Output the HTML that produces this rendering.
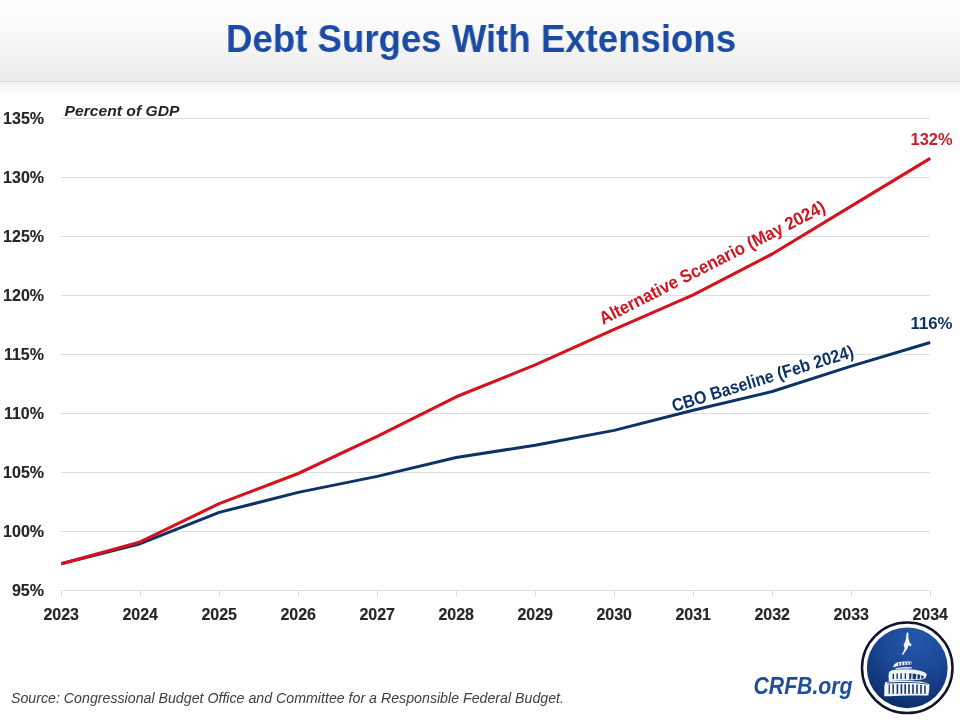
<!DOCTYPE html>
<html>
<head>
<meta charset="utf-8">
<style>
html,body{margin:0;padding:0;width:960px;height:720px;overflow:hidden;background:#fff;}
body{position:relative;font-family:"Liberation Sans",sans-serif;}
#hdr{position:absolute;left:0;top:0;width:960px;height:81px;background:linear-gradient(#ffffff 0%,#fafafa 35%,#efefef 80%,#ebebeb 100%);}
#hdrline{position:absolute;left:0;top:80.5px;width:960px;height:1.5px;background:#dadada;}
#shadow{position:absolute;left:0;top:82px;width:960px;height:17px;background:linear-gradient(#f2f2f2,#f8f8f8 35%,#ffffff);}
#title{position:absolute;left:1.25px;top:17px;transform:scaleX(0.9506);width:960px;text-align:center;font-weight:bold;font-size:38.5px;color:#1c4ba3;white-space:nowrap;}
svg{position:absolute;left:0;top:0;will-change:transform;}
#title{will-change:transform;}
</style>
</head>
<body>
<div id="hdr"></div>
<div id="hdrline"></div>
<div id="shadow"></div>
<div id="title">Debt Surges With Extensions</div>
<svg width="960" height="720" viewBox="0 0 960 720">
  <g stroke="#dddddd" stroke-width="1">
    <line x1="61" y1="118.5" x2="930" y2="118.5"/>
    <line x1="61" y1="177.5" x2="930" y2="177.5"/>
    <line x1="61" y1="236.5" x2="930" y2="236.5"/>
    <line x1="61" y1="295.5" x2="930" y2="295.5"/>
    <line x1="61" y1="354.5" x2="930" y2="354.5"/>
    <line x1="61" y1="413.5" x2="930" y2="413.5"/>
    <line x1="61" y1="472.5" x2="930" y2="472.5"/>
    <line x1="61" y1="531.5" x2="930" y2="531.5"/>
    <line x1="61" y1="590.5" x2="930" y2="590.5"/>
  </g>
  <g font-family="Liberation Sans" font-weight="bold" font-size="16" fill="#262626" stroke="#262626" stroke-width="0.15" text-anchor="end">
    <text x="44" y="124">135%</text>
    <text x="44" y="183">130%</text>
    <text x="44" y="242">125%</text>
    <text x="44" y="301">120%</text>
    <text x="44" y="360">115%</text>
    <text x="44" y="419">110%</text>
    <text x="44" y="478">105%</text>
    <text x="44" y="537">100%</text>
    <text x="44" y="596">95%</text>
  </g>
  <text x="64.5" y="115.5" textLength="115" lengthAdjust="spacingAndGlyphs" font-family="Liberation Sans" font-weight="bold" font-style="italic" font-size="15" fill="#262626">Percent of GDP</text>
  <g stroke="#dddddd" stroke-width="1">
    <line x1="61.5" y1="590" x2="61.5" y2="597"/>
    <line x1="140.5" y1="590" x2="140.5" y2="597"/>
    <line x1="219.5" y1="590" x2="219.5" y2="597"/>
    <line x1="298.5" y1="590" x2="298.5" y2="597"/>
    <line x1="377.5" y1="590" x2="377.5" y2="597"/>
    <line x1="456.5" y1="590" x2="456.5" y2="597"/>
    <line x1="535.5" y1="590" x2="535.5" y2="597"/>
    <line x1="614.5" y1="590" x2="614.5" y2="597"/>
    <line x1="693.5" y1="590" x2="693.5" y2="597"/>
    <line x1="772.5" y1="590" x2="772.5" y2="597"/>
    <line x1="851.5" y1="590" x2="851.5" y2="597"/>
    <line x1="930.5" y1="590" x2="930.5" y2="597"/>
  </g>
  <g font-family="Liberation Sans" font-weight="bold" font-size="16" fill="#262626" stroke="#262626" stroke-width="0.15" text-anchor="middle">
    <text x="61.2" y="620">2023</text>
    <text x="140.2" y="620">2024</text>
    <text x="219.2" y="620">2025</text>
    <text x="298.2" y="620">2026</text>
    <text x="377.2" y="620">2027</text>
    <text x="456.2" y="620">2028</text>
    <text x="535.2" y="620">2029</text>
    <text x="614.2" y="620">2030</text>
    <text x="693.2" y="620">2031</text>
    <text x="772.2" y="620">2032</text>
    <text x="851.2" y="620">2033</text>
    <text x="930.2" y="620">2034</text>
  </g>
  <polyline fill="none" stroke="#0d3366" stroke-width="3" stroke-linejoin="round" stroke-linecap="butt" points="61.2,563.8 140.2,543.7 219.2,512.4 298.2,492.4 377.2,476.4 456.2,457.5 535.2,445.2 614.2,430.4 693.2,410.3 772.2,391.5 851.2,366.1 930.2,342.5"/>
  <polyline fill="none" stroke="#d6121c" stroke-width="3.1" stroke-linejoin="round" stroke-linecap="butt" points="61.2,563.8 140.2,541.9 219.2,503.6 298.2,473.5 377.2,436.3 456.2,396.8 535.2,364.9 614.2,329.3 693.2,294.8 772.2,254.0 851.2,206.2 930.2,158.4"/>
  <text x="0" y="0" textLength="251" lengthAdjust="spacingAndGlyphs" transform="translate(603,325) rotate(-27)" font-family="Liberation Sans" font-weight="bold" font-size="18" fill="#cf1520">Alternative Scenario (May 2024)</text>
  <text x="0" y="0" textLength="189" lengthAdjust="spacingAndGlyphs" transform="translate(674,412) rotate(-17)" font-family="Liberation Sans" font-weight="bold" font-size="18" fill="#0d3366">CBO Baseline (Feb 2024)</text>
  <text x="910.5" y="145" textLength="42" lengthAdjust="spacingAndGlyphs" font-family="Liberation Sans" font-weight="bold" font-size="16.5" fill="#c8202a">132%</text>
  <text x="910.5" y="329" textLength="42" lengthAdjust="spacingAndGlyphs" font-family="Liberation Sans" font-weight="bold" font-size="16.5" fill="#0d3366">116%</text>
  <text x="11" y="703" textLength="553" lengthAdjust="spacingAndGlyphs" font-family="Liberation Sans" font-style="italic" font-size="14.5" fill="#404040">Source: Congressional Budget Office and Committee for a Responsible Federal Budget.</text>
  <text x="753.5" y="693.5" textLength="99" lengthAdjust="spacingAndGlyphs" font-family="Liberation Sans" font-weight="bold" font-style="italic" font-size="24" fill="#1f4e9b">CRFB.org</text>
  <g id="logo">
    <defs>
      <radialGradient id="lg" cx="0.6" cy="0.15" r="0.95" fx="0.6" fy="0.15">
        <stop offset="0" stop-color="#2458ad"/>
        <stop offset="0.45" stop-color="#1b4795"/>
        <stop offset="0.8" stop-color="#113474"/>
        <stop offset="1" stop-color="#0b2557"/>
      </radialGradient>
    </defs>
    <circle cx="907.25" cy="667.8" r="45.25" fill="#ffffff" stroke="#10142e" stroke-width="2.5"/>
    <circle cx="907.25" cy="667.8" r="40.4" fill="url(#lg)"/>
    <g fill="#f2f4fa">
      <path d="M907.4,632 L908.5,633.6 L908.4,637.2 L909.1,640.5 L909.6,642.8 L911.4,644.2 L911.2,646.2 L908.5,645.6 L907.6,648.2 L905.4,651.6 L903,655 L901.8,654.5 L903.6,651.3 L904.6,648.2 L903.6,644.8 L905.2,641.6 L906,638.4 L906.3,634.25 Z"/>
      <path d="M893.2,667.6 L893.6,665.6 L895.2,663.4 L897.6,662.2 L901,661.7 L906,661.4 L911.4,661.5 L911.6,664.6 L906,665 L900,665.6 L896,666.6 Z"/>
      <path d="M895.5,668.6 L900,667.4 L906,667 L911.8,667.2 L911.8,668.6 L906,668.5 L900,668.8 L895.5,669.4 Z"/>
      <path d="M888.8,681 L888.5,675.5 L889.2,671.8 L892,670.3 L898,669.5 L907,669.2 L915,669.7 L921,670.9 L925,672.4 L926.8,674.2 L925.6,678 L922,679.6 L912,680.2 L900,680.5 L891,680.9 Z"/>
      <path d="M884.2,696.3 L884.4,686 L885.2,682.3 L890,681.2 L900,680.8 L910,680.9 L920,681.6 L927,682.9 L929.4,684.6 L929.2,690 L928.3,695.6 L920,695.6 L910,695.4 L900,695.7 L890,696.2 Z"/>
    </g>
    <g fill="#163872">
      <rect x="898.2" y="662.9" width="1.1" height="2.6"/>
      <rect x="901.3" y="662.6" width="1.1" height="2.6"/>
      <rect x="904.4" y="662.4" width="1.1" height="2.5"/>
      <rect x="907.3" y="662.3" width="1.1" height="2.5"/>
      <rect x="909.9" y="662.3" width="1" height="2.4"/>
      <rect x="892.6" y="673.8" width="1.4" height="5.4"/>
      <rect x="896.5" y="673.5" width="1.4" height="5.6"/>
      <rect x="900.4" y="673.3" width="1.4" height="5.8"/>
      <rect x="904.7" y="673.2" width="1.3" height="5.7"/>
      <path d="M909.2,673.3 L911.5,673.4 L911.2,679.3 L909.2,679.5 Z"/>
      <path d="M912.6,673.6 L916.4,674 L915.8,679.2 L912.6,679.3 Z"/>
      <path d="M917.6,674.3 L920.4,674.8 L919.8,678.8 L917.4,679 Z"/>
      <path d="M921.4,675.2 L924.4,676.4 L922.5,678.5 L921,678.7 Z"/>
      <path d="M887,682.6 L900,681.9 L915,682.2 L928,683.8 L928,684.6 L915,683.1 L900,682.9 L887,683.6 Z"/>
      <rect x="888.6" y="684.5" width="1.3" height="9.3"/>
      <rect x="892.4" y="684.3" width="1.5" height="9.5"/>
      <rect x="896.6" y="684.2" width="1.6" height="9.6"/>
      <rect x="900.6" y="684.2" width="1.6" height="9.6"/>
      <rect x="904.4" y="684.2" width="1.6" height="9.6"/>
      <rect x="908.2" y="684.2" width="1.6" height="9.6"/>
      <rect x="912.2" y="684.4" width="1.6" height="9.4"/>
      <rect x="916.2" y="684.6" width="1.6" height="9.2"/>
      <rect x="920.2" y="684.9" width="1.6" height="8.9"/>
      <rect x="924.2" y="685.4" width="1.5" height="8.4"/>
    </g>
  </g>
</svg>
</body>
</html>
